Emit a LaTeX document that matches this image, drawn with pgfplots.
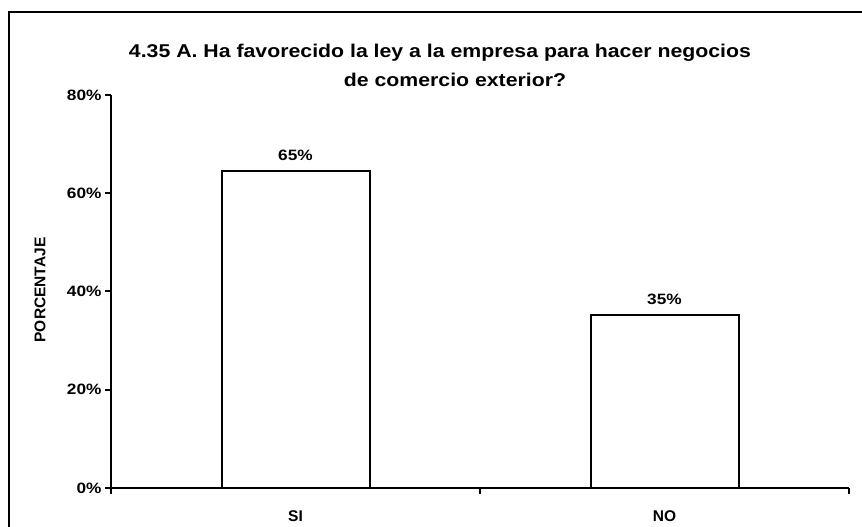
\documentclass[border=0pt]{standalone}
\usepackage{fontspec}
\setmainfont{Liberation Sans}
\newfontfamily\wide[FakeStretch=1.15]{Liberation Sans}
\usepackage{pgfplots}
\pgfplotsset{compat=1.18}
\begin{document}
\begin{tikzpicture}[x=1pt,y=1pt]
\useasboundingbox (0,0) rectangle (862,527);
\fill[white] (0,0) rectangle (862,527);
\draw[line width=2.2pt] (9,-5) -- (9,515) -- (870,515);
\begin{axis}[
  at={(111pt,39pt)}, anchor=south west,
  scale only axis, width=738pt, height=393pt,
  xmin=-0.5, xmax=1.5, ymin=0, ymax=80,
  axis x line*=bottom, axis y line*=left,
  axis line style={line width=2pt, -},
  every axis plot/.append style={line width=2pt},
  ybar, bar width=148pt,
  ytick={0,20,40,60,80}, yticklabels={0\%,20\%,40\%,60\%,80\%},
  xtick={-0.5,0.5,1.5}, xticklabels={},
  extra x ticks={0,1}, extra x tick labels={SI,NO},
  extra x tick style={major tick length=0pt, xticklabel style={yshift=-19pt}},
  tick align=outside, major tick length=6pt,
  tick style={line width=2pt, black},
  yticklabel style={font=\wide\bfseries\fontsize{15}{16}\selectfont},
  xticklabel style={font=\bfseries\fontsize{15.5}{16}\selectfont},
  nodes near coords, point meta=explicit symbolic,
  nodes near coords style={font=\wide\bfseries\fontsize{15}{16}\selectfont, yshift=6pt},
  clip=false,
]
\addplot[fill=white, draw=black, line width=2pt] coordinates {(0,64.6) [65\%] (1,35.3) [35\%]};
\end{axis}
\node[font=\wide\bfseries\fontsize{18.5}{20}\selectfont] at (440,474) {4.35 A. Ha favorecido la ley a la empresa para hacer negocios};
\node[font=\wide\bfseries\fontsize{18.5}{20}\selectfont] at (455,447) {de comercio exterior?};
\node[font=\bfseries\fontsize{15.5}{16}\selectfont, rotate=90] at (40,237) {PORCENTAJE};
\end{tikzpicture}
\end{document}
